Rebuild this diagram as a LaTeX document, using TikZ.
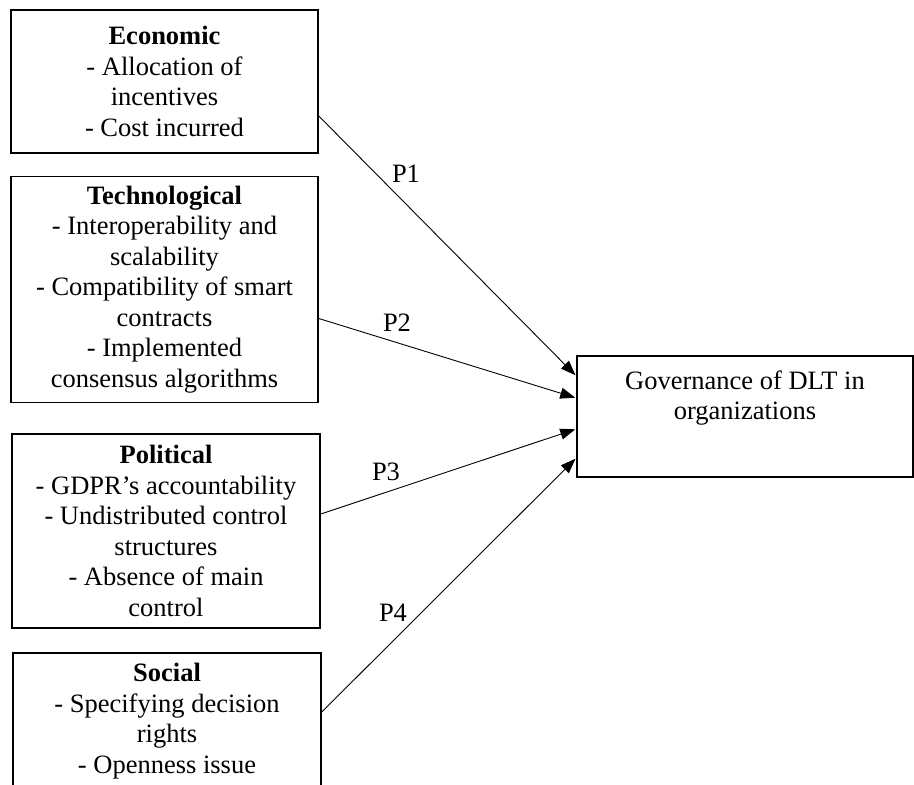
\documentclass[tikz,border=0pt]{standalone}
\usepackage{fontspec}
\setmainfont{Liberation Serif}
\usetikzlibrary{arrows.meta}
\begin{document}
\begin{tikzpicture}[x=1pt,y=-1pt,
  box/.style={draw=black, line width=1.6pt, align=center, inner sep=0pt,
    font=\fontsize{26.5}{30.5}\selectfont},
  plabel/.style={inner sep=0pt, font=\fontsize{26.5}{30.5}\selectfont},
  conn/.style={line width=0.9pt, -{Triangle[length=15pt,width=11pt]}, shorten >=1pt}]
\useasboundingbox (0,0) rectangle (914,785);
\clip (0,0) rectangle (914,785);
\node[box, minimum width=307pt, minimum height=143pt] (econ) at (164.5,81.5)
  {\textbf{Economic}\\- Allocation of\\incentives\\- Cost incurred};
\node[box, minimum width=307pt, minimum height=226pt] (tech) at (164.5,289.5)
  {\textbf{Technological}\\- Interoperability and\\scalability\\- Compatibility of smart\\contracts\\- Implemented\\consensus algorithms};
\node[box, minimum width=308pt, minimum height=194pt] (pol) at (166,531)
  {\textbf{Political}\\- GDPR’s accountability\\- Undistributed control\\structures\\- Absence of main\\control};
\node[box, minimum width=308pt, minimum height=136pt] (soc) at (167,721)
  {\textbf{Social}\\- Specifying decision\\rights\\- Openness issue};
\node[box, minimum width=336pt, minimum height=121pt] (gov) at (745,416.5) {};
\node[plabel, align=center, anchor=north] (govtext) at ([yshift=-15pt]gov.north)
  {Governance of DLT in\\organizations};
\draw[conn] ([yshift=-34.5pt]econ.east) -- ([yshift=40.5pt]gov.west);
\draw[conn] ([yshift=-29pt]tech.east) -- ([yshift=18.5pt]gov.west);
\draw[conn] ([yshift=17pt]pol.east) -- ([yshift=-12.5pt]gov.west);
\draw[conn] ([yshift=9pt]soc.east) -- ([yshift=-41.5pt]gov.west);
\node[plabel] (p1) at (406,174) {P1};
\node[plabel] (p2) at (397,323) {P2};
\node[plabel] (p3) at (386,472) {P3};
\node[plabel] (p4) at (393,613) {P4};
\end{tikzpicture}
\end{document}
